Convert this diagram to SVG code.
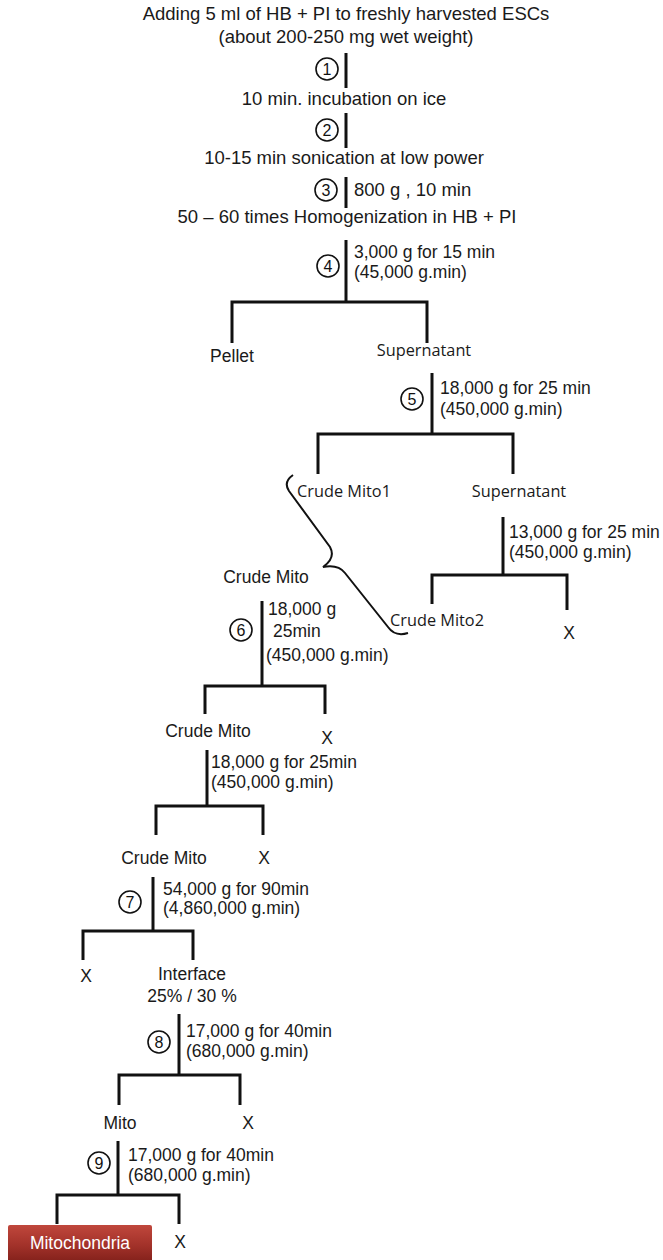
<svg xmlns="http://www.w3.org/2000/svg" width="663" height="1260" viewBox="0 0 663 1260">
<defs>
<style>
.t{font-family:"Liberation Sans",Arial,sans-serif;font-size:17.5px;fill:#1a1a1a}
.h{font-size:18.5px}
.c{text-anchor:middle}
.o{font-family:"Open Sans","Noto Sans",sans-serif;font-size:16.3px;fill:#1a1a1a}
.ln{stroke:#111;stroke-width:3;fill:none}
.cir{stroke:#111;stroke-width:1.6;fill:#fff}
.n{font-family:"Liberation Sans",Arial,sans-serif;font-size:16px;text-anchor:middle;fill:#111}
.br{stroke:#111;stroke-width:2;fill:none}
</style>
<linearGradient id="red" x1="0" y1="0" x2="0" y2="1">
<stop offset="0" stop-color="#c0473c"/>
<stop offset="0.5" stop-color="#a3322a"/>
<stop offset="1" stop-color="#7d1e18"/>
</linearGradient>
</defs>
<rect width="663" height="1260" fill="#fff"/>

<g id="connectors">
<line class="ln" x1="346" y1="53" x2="346" y2="88"/>
<line class="ln" x1="346" y1="113" x2="346" y2="148"/>
<line class="ln" x1="346" y1="177" x2="346" y2="208"/>
<line class="ln" x1="346" y1="240" x2="346" y2="302"/>
<path class="ln" d="M232 343 V302 H427 V343"/>
<line class="ln" x1="432" y1="373" x2="432" y2="434"/>
<path class="ln" d="M318 474 V434 H513 V474"/>
<line class="ln" x1="503" y1="517" x2="503" y2="575"/>
<path class="ln" d="M432 604 V575 H567 V610"/>
<path class="br" d="M293 475 Q283 482 289 491 L330 547 Q336 558 323 567 Q338 564 345 573 L388 627 Q395 637 408 633"/>
<line class="ln" x1="262" y1="601" x2="262" y2="686"/>
<path class="ln" d="M205 714 V686 H325 V714"/>
<line class="ln" x1="207" y1="750" x2="207" y2="806"/>
<path class="ln" d="M156 835 V806 H263 V835"/>
<line class="ln" x1="153" y1="877" x2="153" y2="931"/>
<path class="ln" d="M83 960 V931 H193 V960"/>
<line class="ln" x1="179" y1="1014" x2="179" y2="1075"/>
<path class="ln" d="M119 1105 V1075 H240 V1105"/>
<line class="ln" x1="118" y1="1141" x2="118" y2="1195"/>
<path class="ln" d="M57 1224 V1195 H179 V1224"/>
</g>

<g id="step-markers">
<g id="m1"><circle class="cir" cx="327" cy="69" r="11"/><text class="n" x="327" y="75">1</text></g>
<g id="m2"><circle class="cir" cx="327" cy="130" r="11"/><text class="n" x="327" y="136">2</text></g>
<g id="m3"><circle class="cir" cx="326" cy="190" r="11"/><text class="n" x="326" y="196">3</text></g>
<g id="m4"><circle class="cir" cx="328" cy="266" r="11"/><text class="n" x="328" y="272">4</text></g>
<g id="m5"><circle class="cir" cx="412" cy="399" r="11"/><text class="n" x="412" y="405">5</text></g>
<g id="m6"><circle class="cir" cx="241" cy="630" r="11"/><text class="n" x="241" y="636">6</text></g>
<g id="m7"><circle class="cir" cx="130" cy="902" r="11"/><text class="n" x="130" y="908">7</text></g>
<g id="m8"><circle class="cir" cx="159" cy="1042" r="11"/><text class="n" x="159" y="1048">8</text></g>
<g id="m9"><circle class="cir" cx="99" cy="1163" r="11"/><text class="n" x="99" y="1169">9</text></g>
</g>

<g id="start"><text class="t h c" x="346" y="20">Adding 5 ml of HB + PI to freshly harvested ESCs</text>
<text class="t h c" x="346" y="43">(about 200-250 mg wet weight)</text></g>
<g id="incubation"><text class="t h c" x="344" y="105">10 min. incubation on ice</text></g>
<g id="sonication"><text class="t h c" x="344" y="164">10-15 min sonication at low power</text></g>
<g id="cond3"><text class="t h" x="354" y="196">800 g , 10 min</text></g>
<g id="homogenization"><text class="t h c" x="347" y="223">50 – 60 times Homogenization in HB + PI</text></g>
<g id="cond4"><text class="t" x="354" y="258">3,000 g for 15 min</text><text class="t" x="354" y="278">(45,000 g.min)</text></g>
<g id="pellet"><text class="t c" x="232" y="362">Pellet</text></g>
<g id="supernatant1"><text class="o c" x="424" y="356">Supernatant</text></g>
<g id="cond5"><text class="t" x="440" y="394">18,000 g for 25 min</text><text class="t" x="440" y="415">(450,000 g.min)</text></g>
<g id="crude-mito1"><text class="o c" x="344" y="497">Crude Mito1</text></g>
<g id="supernatant2"><text class="o c" x="519" y="497">Supernatant</text></g>
<g id="cond-sup"><text class="t" x="509" y="538">13,000 g for 25 min</text><text class="t" x="509" y="558">(450,000 g.min)</text></g>
<g id="crude-mito2"><text class="o c" x="437" y="626">Crude Mito2</text></g>
<g id="x-sup"><text class="t c" x="569" y="639">X</text></g>
<g id="crude-mito-a"><text class="t c" x="266" y="583">Crude Mito</text></g>
<g id="cond6"><text class="t" x="268" y="615">18,000 g</text><text class="t" x="273" y="637"> 25min</text><text class="t" x="266" y="661">(450,000 g.min)</text></g>
<g id="crude-mito-b"><text class="t c" x="208" y="737">Crude Mito</text></g>
<g id="x6"><text class="t c" x="327" y="744">X</text></g>
<g id="cond6b"><text class="t" x="211" y="768">18,000 g for 25min</text><text class="t" x="211" y="788">(450,000 g.min)</text></g>
<g id="crude-mito-c"><text class="t c" x="164" y="864">Crude Mito</text></g>
<g id="x6b"><text class="t c" x="264" y="864">X</text></g>
<g id="cond7"><text class="t" x="163" y="895">54,000 g for 90min</text><text class="t" x="163" y="914">(4,860,000 g.min)</text></g>
<g id="x7"><text class="t c" x="86" y="982">X</text></g>
<g id="interface"><text class="t c" x="192" y="980">Interface</text><text class="t c" x="192" y="1002">25% / 30 %</text></g>
<g id="cond8"><text class="t" x="186" y="1037">17,000 g for 40min</text><text class="t" x="186" y="1057">(680,000 g.min)</text></g>
<g id="mito"><text class="t c" x="120" y="1129">Mito</text></g>
<g id="x8"><text class="t c" x="248" y="1129">X</text></g>
<g id="cond9"><text class="t" x="128" y="1161">17,000 g for 40min</text><text class="t" x="128" y="1181">(680,000 g.min)</text></g>
<g id="mitochondria"><rect x="8" y="1225" width="144" height="40" rx="2" fill="url(#red)"/><text class="t c" x="80" y="1249" style="fill:#fff">Mitochondria</text></g>
<g id="x9"><text class="t c" x="180" y="1248">X</text></g>
</svg>
